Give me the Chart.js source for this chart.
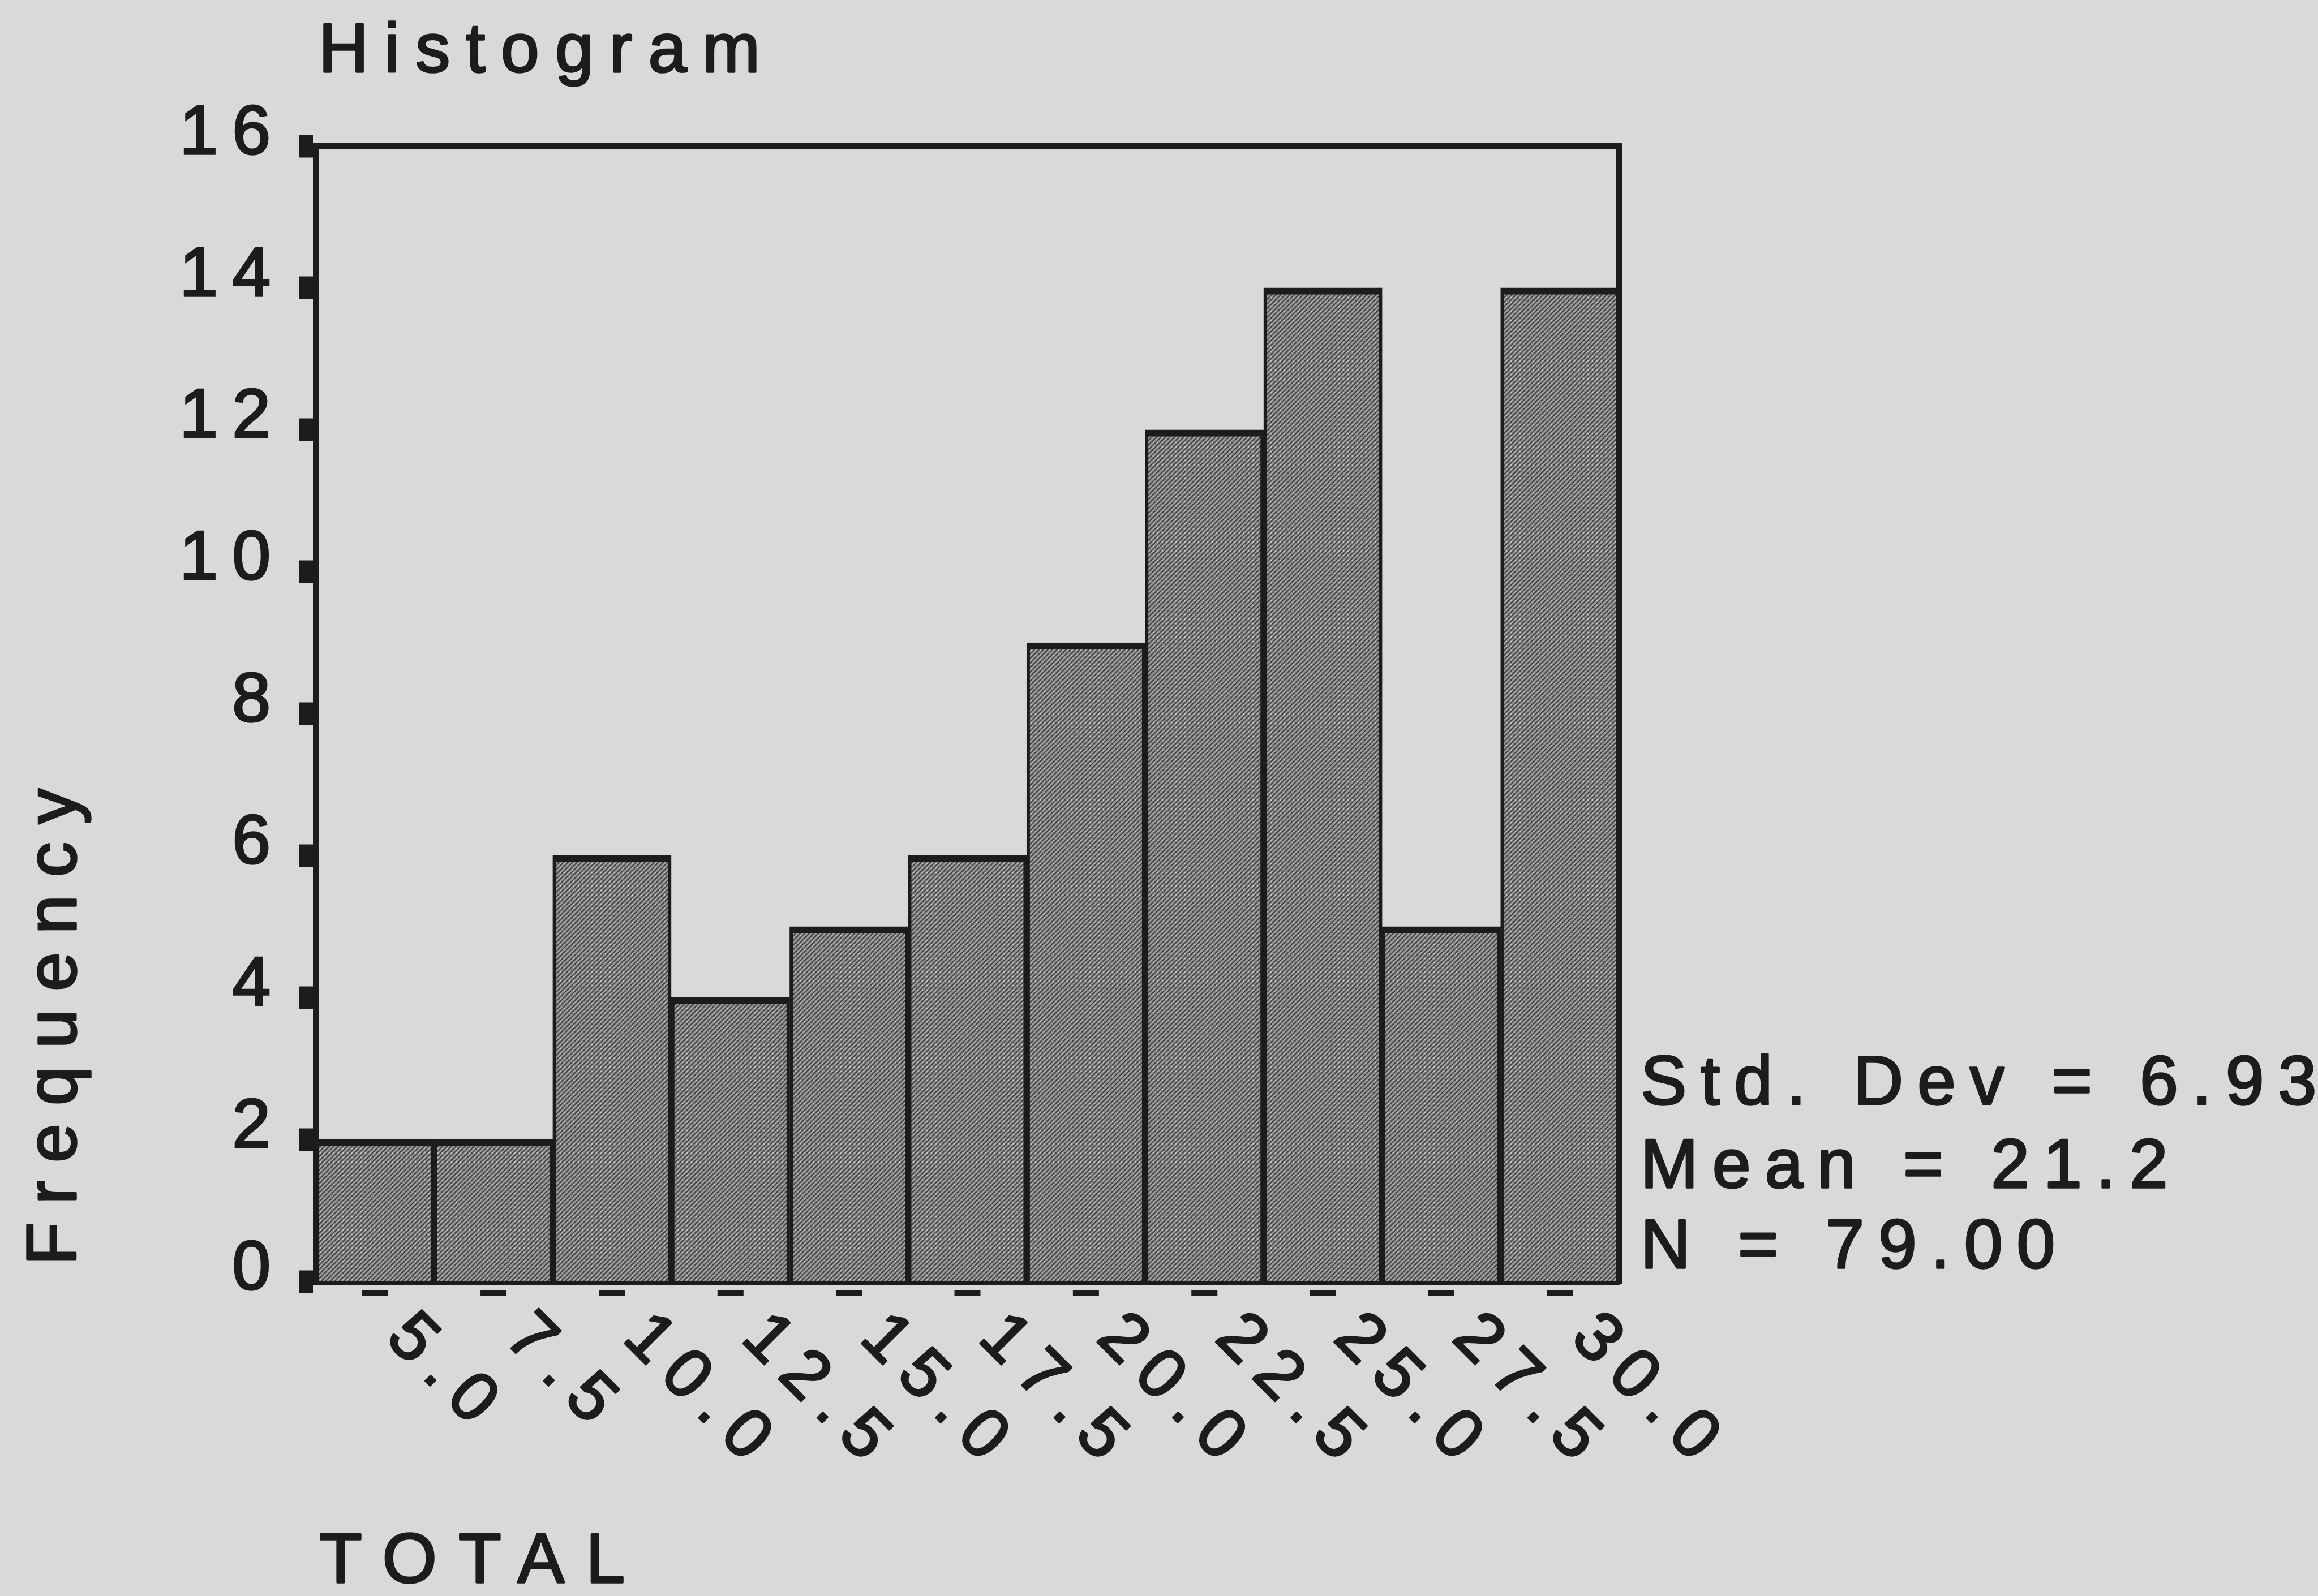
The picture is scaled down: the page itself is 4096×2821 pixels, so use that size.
<!DOCTYPE html>
<html>
<head>
<meta charset="utf-8">
<script src="https://cdn.jsdelivr.net/npm/chart.js@4.4.1/dist/chart.umd.min.js"></script>
<style>
html,body{margin:0;padding:0;background:#d9d9d9;overflow:hidden}
canvas{display:block}
</style>
</head>
<body>
<canvas id="c" width="4096" height="2821" style="width:4096px;height:2821px"></canvas>
<script>
// ---- data ----
const categories = ['5.0','7.5','10.0','12.5','15.0','17.5','20.0','22.5','25.0','27.5','30.0'];
const frequencies = [2, 2, 6, 4, 5, 6, 9, 12, 14, 5, 14];
const yTicks = [0, 2, 4, 6, 8, 10, 12, 14, 16];
const chartTitle = 'Histogram';
const yAxisTitle = 'Frequency';
const xAxisTitle = 'TOTAL';
const statLines = ['Std. Dev = 6.93', 'Mean = 21.2', 'N = 79.00'];

// ---- style ----
const ink = '#1c1c1c';
const paper = '#d9d9d9';
const FONT = '"Liberation Sans", Arial, Helvetica, sans-serif';
const TEXT_STROKE = 3.5;

function makePattern() {
  const c = document.createElement('canvas');
  c.width = 8; c.height = 8;
  const g = c.getContext('2d');
  g.fillStyle = '#969696';
  g.fillRect(0, 0, 8, 8);
  g.strokeStyle = '#424242';
  g.lineWidth = 2;
  g.beginPath();
  g.moveTo(-2, 10); g.lineTo(10, -2);
  g.moveTo(-2, 2); g.lineTo(2, -2);
  g.moveTo(6, 10); g.lineTo(10, 6);
  g.stroke();
  g.fillStyle = '#c0c0c0';
  g.fillRect(5, 5, 2, 2);
  return g.createPattern(c, 'repeat');
}

function drawText(ctx, s, x, y) {
  ctx.fillText(s, x, y);
  ctx.strokeText(s, x, y);
}

const decor = {
  id: 'decor',
  beforeDraw(chart) {
    const ctx = chart.ctx;
    ctx.save();
    ctx.fillStyle = paper;
    ctx.fillRect(0, 0, chart.width, chart.height);
    ctx.restore();
    ctx.letterSpacing = '25px';
  },
  afterDraw(chart) {
    const ctx = chart.ctx;
    const a = chart.chartArea;
    const x = chart.scales.x;
    ctx.save();
    // top and right frame
    ctx.strokeStyle = ink;
    ctx.lineWidth = 11;
    ctx.lineJoin = 'miter';
    ctx.beginPath();
    ctx.moveTo(a.left, a.top);
    ctx.lineTo(a.right, a.top);
    ctx.lineTo(a.right, a.bottom + 5);
    ctx.stroke();

    // small dashes under each category
    ctx.fillStyle = ink;
    x.ticks.forEach((t, i) => {
      const px = x.getPixelForTick(i);
      ctx.fillRect(px - 23, a.bottom + 16, 46, 10);
    });

    // text settings
    ctx.lineWidth = TEXT_STROKE;
    ctx.lineJoin = 'round';
    ctx.strokeStyle = ink;
    ctx.fillStyle = ink;

    // rotated category labels
    ctx.font = '122px ' + FONT;
    ctx.letterSpacing = '24px';
    ctx.textAlign = 'left';
    ctx.textBaseline = 'alphabetic';
    x.ticks.forEach((t, i) => {
      const px = x.getPixelForTick(i);
      ctx.save();
      ctx.translate(px + 16, a.bottom + 103);
      ctx.rotate(Math.PI / 4);
      drawText(ctx, categories[i], 0, 0);
      ctx.restore();
    });

    // title
    ctx.letterSpacing = '28px';
    drawText(ctx, chartTitle, a.left + 5, a.top - 131);

    // x axis title
    ctx.font = '124px ' + FONT;
    ctx.letterSpacing = '38px';
    drawText(ctx, xAxisTitle, a.left + 6, a.bottom + 532);

    // y axis title
    ctx.letterSpacing = '32px';
    ctx.save();
    ctx.translate(134, a.bottom - 29);
    ctx.rotate(-Math.PI / 2);
    drawText(ctx, yAxisTitle, 0, 0);
    ctx.restore();

    // stats
    ctx.font = '122px ' + FONT;
    ctx.letterSpacing = '25px';
    const base = [-313, -166, -24];
    statLines.forEach((s, i) => drawText(ctx, s, a.right + 38, a.bottom + base[i]));
    ctx.restore();
  }
};

new Chart(document.getElementById('c'), {
  type: 'bar',
  data: {
    labels: categories,
    datasets: [{
      data: frequencies,
      backgroundColor: makePattern(),
      borderColor: ink,
      borderWidth: {top: 12, left: 6, right: 6, bottom: 0},
      borderSkipped: false,
      barPercentage: 1,
      categoryPercentage: 1
    }]
  },
  options: {
    responsive: false,
    animation: false,
    devicePixelRatio: 1,
    layout: {padding: {left: 0, top: 258, right: 1235, bottom: 0}},
    plugins: {legend: {display: false}, tooltip: {enabled: false}, title: {display: false}},
    scales: {
      x: {
        type: 'category',
        offset: true,
        z: 1,
        grid: {display: false, drawTicks: false},
        border: {display: true, color: ink, width: 11},
        ticks: {display: false},
        afterFit(s) { s.height = 556; }
      },
      y: {
        min: 0,
        max: 16,
        z: 1,
        afterBuildTicks(s) { s.ticks = yTicks.map(v => ({value: v})); },
        grid: {drawOnChartArea: false, drawTicks: true, tickLength: 30, tickWidth: 40, tickColor: ink},
        border: {display: true, color: ink, width: 11},
        ticks: {
          color: ink,
          font: {family: FONT, size: 122},
          padding: 25,
          labelOffset: -20,
          textStrokeColor: ink,
          textStrokeWidth: TEXT_STROKE
        },
        afterFit(s) { s.width = 558; }
      }
    }
  },
  plugins: [decor]
});
</script>
</body>
</html>
